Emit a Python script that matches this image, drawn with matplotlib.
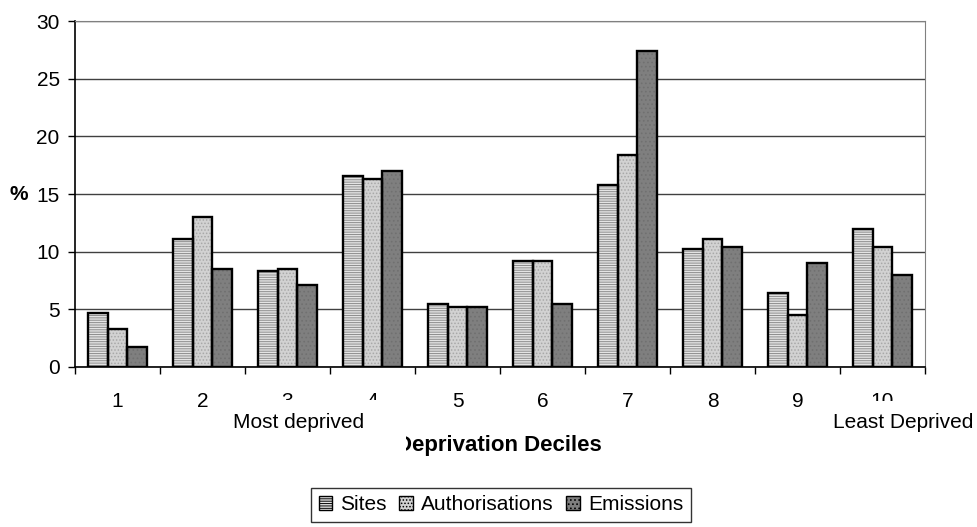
import matplotlib.pyplot as plt
import numpy as np
from matplotlib.patches import Rectangle, Patch

plt.rcParams["font.family"] = ["Liberation Sans", "DejaVu Sans"]
plt.rcParams["hatch.linewidth"] = 0.7

deciles = ["1", "2", "3", "4", "5", "6", "7", "8", "9", "10"]
sites = [4.7, 11.1, 8.3, 16.6, 5.5, 9.2, 15.8, 10.2, 6.4, 12.0]
authorisations = [3.3, 13.0, 8.5, 16.3, 5.2, 9.2, 18.4, 11.1, 4.5, 10.4]
emissions = [1.7, 8.5, 7.1, 17.0, 5.2, 5.5, 27.4, 10.4, 9.0, 8.0]

series = [
    ("Sites", sites, "#e4e4e4", "#8c8c8c", "-------"),
    ("Authorisations", authorisations, "#d2d2d2", "#a8a8a8", "....."),
    ("Emissions", emissions, "#7f7f7f", "#707070", "...."),
]

W, H = 977, 527
fig = plt.figure(figsize=(W / 100, H / 100), dpi=100)
ax = fig.add_axes([75 / W, 1 - 367 / H, 850 / W, 346 / H])

x = np.arange(1, len(deciles) + 1)
bw = 0.228
handles = []
for i, (name, vals, fc, hc, hatch) in enumerate(series):
    pos = x + (i - 1) * bw
    ax.bar(pos, vals, bw, color=fc, edgecolor=hc, hatch=hatch, linewidth=0, zorder=3)
    ax.bar(pos, vals, bw, facecolor="none", edgecolor="black", linewidth=1.7, zorder=4)
    handles.append(Patch(facecolor=fc, edgecolor="black", hatch=hatch, linewidth=1.0, label=name))

ax.set_xlim(0.5, 10.5)
ax.set_ylim(0, 30)
ax.set_yticks(range(0, 31, 5))
ax.set_xticks(x)
ax.set_xticklabels(deciles)
ax.set_xticks(np.arange(0.5, 11, 1), minor=True)
ax.tick_params(axis="x", which="major", length=0, pad=18, labelsize=15)
ax.tick_params(axis="x", which="minor", length=5, width=1, direction="out")
ax.tick_params(axis="y", length=5, width=1, direction="out", pad=6, labelsize=15)
ax.yaxis.grid(True, color="#404040", linewidth=1, zorder=0)
ax.set_axisbelow(True)
ax.spines["top"].set_color("#808080")
ax.spines["right"].set_color("#808080")
ax.spines["left"].set_linewidth(1.2)
ax.spines["bottom"].set_linewidth(1.2)

# white text boxes that overlap the tick labels, as in the original
fig.patches.append(Rectangle((225 / W, 1 - 453 / H), 181 / W, 53 / H,
                             transform=fig.transFigure, facecolor="white",
                             edgecolor="none", zorder=2))
fig.patches.append(Rectangle((826 / W, 1 - 440 / H), 151 / W, 39 / H,
                             transform=fig.transFigure, facecolor="white",
                             edgecolor="none", zorder=2))
fig.text(299 / W, 1 - 423 / H, "Most deprived", ha="center", va="center",
         fontsize=15, zorder=4)
fig.text(903 / W, 1 - 423 / H, "Least Deprived", ha="center", va="center",
         fontsize=15, zorder=4)
fig.text(499 / W, 1 - 445 / H, "Deprivation Deciles", ha="center", va="center",
         fontsize=16, fontweight="bold", zorder=1)
fig.text(19 / W, 1 - 195 / H, "%", ha="center", va="center",
         fontsize=15, fontweight="bold")

leg = fig.legend(handles=handles, loc="center", bbox_to_anchor=(501 / W, 1 - 505 / H),
                 ncol=3, fontsize=15, frameon=True, fancybox=False,
                 handlelength=0.65, handleheight=0.65, handletextpad=0.4,
                 columnspacing=0.6, borderpad=0.35)
leg.get_frame().set_edgecolor("black")
leg.get_frame().set_linewidth(1.0)

fig.savefig("out.png", dpi=100)
